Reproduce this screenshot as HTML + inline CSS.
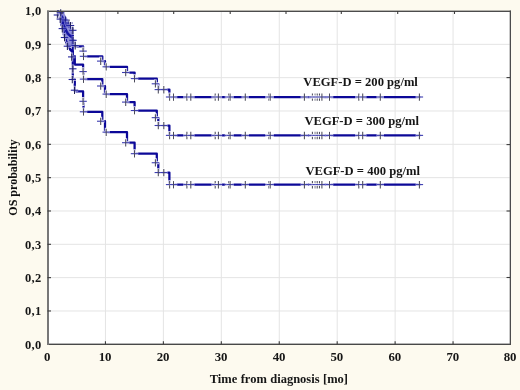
<!DOCTYPE html>
<html><head><meta charset="utf-8"><style>
html,body{margin:0;padding:0;background:#fdfaef;}
svg{display:block;filter:blur(0.3px);}
</style></head><body>
<svg width="520" height="390" viewBox="0 0 520 390">
<rect x="0" y="0" width="520" height="390" fill="#fdfaef"/>
<rect x="48" y="11" width="462" height="333" fill="#fff"/>
<path d="M105.44,12V343.6" stroke="#e4e4e4" stroke-width="1"/>
<path d="M163.38,12V343.6" stroke="#e4e4e4" stroke-width="1"/>
<path d="M221.31,12V343.6" stroke="#e4e4e4" stroke-width="1"/>
<path d="M279.25,12V343.6" stroke="#e4e4e4" stroke-width="1"/>
<path d="M337.19,12V343.6" stroke="#e4e4e4" stroke-width="1"/>
<path d="M395.12,12V343.6" stroke="#e4e4e4" stroke-width="1"/>
<path d="M453.06,12V343.6" stroke="#e4e4e4" stroke-width="1"/>
<path d="M49,310.97H509.7" stroke="#e4e4e4" stroke-width="1"/>
<path d="M49,277.64H509.7" stroke="#e4e4e4" stroke-width="1"/>
<path d="M49,244.31H509.7" stroke="#e4e4e4" stroke-width="1"/>
<path d="M49,210.98H509.7" stroke="#e4e4e4" stroke-width="1"/>
<path d="M49,177.65H509.7" stroke="#e4e4e4" stroke-width="1"/>
<path d="M49,144.32H509.7" stroke="#e4e4e4" stroke-width="1"/>
<path d="M49,110.99H509.7" stroke="#e4e4e4" stroke-width="1"/>
<path d="M49,77.66H509.7" stroke="#e4e4e4" stroke-width="1"/>
<path d="M49,44.33H509.7" stroke="#e4e4e4" stroke-width="1"/>
<path d="M57.00,11.00 L57.60,11.00 L57.60,11.40 L58.60,11.40 L58.60,12.17 L59.50,12.17 L59.50,13.70 L60.70,13.70 L60.70,15.73 L61.50,15.73 L61.50,16.99 L62.30,16.99 L62.30,18.25 L63.10,18.25 L63.10,19.64 L63.80,19.64 L63.80,20.84 L64.50,20.84 L64.50,22.05 L65.30,22.05 L65.30,23.06 L66.00,23.06 L66.00,23.94 L66.70,23.94 L66.70,24.82 L67.40,24.82 L67.40,25.70 L68.30,25.70 L68.30,26.24 L69.20,26.24 L69.20,26.78 L70.10,26.78 L70.10,27.30 L71.00,27.30 L71.00,27.73 L72.00,27.73 L72.00,28.20 L72.80,28.20 L72.80,40.57 L74.80,40.57 L74.80,46.32 L83.10,46.32 L83.10,51.10 L83.50,51.10 L83.50,56.30 L102.30,56.30 L102.30,61.10 L105.00,61.10 L105.00,66.80 L127.00,66.80 L127.00,72.50 L134.60,72.50 L134.60,78.60 L156.80,78.60 L156.80,84.00 L158.30,84.00 L158.30,89.60 L169.40,89.60 L169.40,97.00 L421.00,97.00" fill="none" stroke="#0c0898" stroke-width="2.25" stroke-linejoin="round"/>
<path d="M57.00,11.00 L57.60,11.00 L57.60,11.63 L58.60,11.63 L58.60,12.83 L59.50,12.83 L59.50,15.22 L60.70,15.22 L60.70,18.38 L61.50,18.38 L61.50,20.33 L62.30,20.33 L62.30,22.28 L63.10,22.28 L63.10,24.42 L63.80,24.42 L63.80,26.28 L64.50,26.28 L64.50,28.12 L65.30,28.12 L65.30,29.68 L66.00,29.68 L66.00,31.03 L66.70,31.03 L66.70,32.37 L67.40,32.37 L67.40,33.71 L68.30,33.71 L68.30,34.54 L69.20,34.54 L69.20,35.36 L70.10,35.36 L70.10,36.16 L71.00,36.16 L71.00,36.81 L72.00,36.81 L72.00,37.53 L72.80,37.53 L72.80,56.10 L74.80,56.10 L74.80,64.59 L83.10,64.59 L83.10,71.58 L83.50,71.58 L83.50,79.12 L102.30,79.12 L102.30,86.00 L105.00,86.00 L105.00,94.09 L127.00,94.09 L127.00,102.09 L134.60,102.09 L134.60,110.54 L156.80,110.54 L156.80,117.93 L158.30,117.93 L158.30,125.51 L169.40,125.51 L169.40,135.37 L421.00,135.37" fill="none" stroke="#0c0898" stroke-width="2.25" stroke-linejoin="round"/>
<path d="M57.00,11.00 L57.60,11.00 L57.60,11.98 L58.60,11.98 L58.60,13.87 L59.50,13.87 L59.50,17.62 L60.70,17.62 L60.70,22.54 L61.50,22.54 L61.50,25.58 L62.30,25.58 L62.30,28.59 L63.10,28.59 L63.10,31.89 L63.80,31.89 L63.80,34.74 L64.50,34.74 L64.50,37.57 L65.30,37.57 L65.30,39.94 L66.00,39.94 L66.00,41.99 L66.70,41.99 L66.70,44.04 L67.40,44.04 L67.40,46.07 L68.30,46.07 L68.30,47.31 L69.20,47.31 L69.20,48.55 L70.10,48.55 L70.10,49.76 L71.00,49.76 L71.00,50.74 L72.00,50.74 L72.00,51.82 L72.80,51.82 L72.80,79.22 L74.80,79.22 L74.80,91.41 L83.10,91.41 L83.10,101.30 L83.50,101.30 L83.50,111.79 L102.30,111.79 L102.30,121.22 L105.00,121.22 L105.00,132.13 L127.00,132.13 L127.00,142.71 L134.60,142.71 L134.60,153.68 L156.80,153.68 L156.80,163.09 L158.30,163.09 L158.30,172.55 L169.40,172.55 L169.40,184.59 L421.00,184.59" fill="none" stroke="#0c0898" stroke-width="2.25" stroke-linejoin="round"/>
<path d="M79.40,51.10H86.80M83.10,46.70V55.70" stroke="#fff" stroke-opacity="0.85" stroke-width="2.9"/><path d="M79.40,51.10H86.80" stroke="#3c3cb0" stroke-width="1.1"/><path d="M83.10,47.60V54.90" stroke="#4a4a5a" stroke-width="1.05"/>
<path d="M79.80,56.30H87.20M83.50,51.90V60.90" stroke="#fff" stroke-opacity="0.85" stroke-width="2.9"/><path d="M79.80,56.30H87.20" stroke="#3c3cb0" stroke-width="1.1"/><path d="M83.50,52.80V60.10" stroke="#4a4a5a" stroke-width="1.05"/>
<path d="M97.00,61.10H104.40M100.70,56.70V65.70" stroke="#fff" stroke-opacity="0.85" stroke-width="2.9"/><path d="M97.00,61.10H104.40" stroke="#3c3cb0" stroke-width="1.1"/><path d="M100.70,57.60V64.90" stroke="#4a4a5a" stroke-width="1.05"/>
<path d="M102.50,66.80H109.90M106.20,62.40V71.40" stroke="#fff" stroke-opacity="0.85" stroke-width="2.9"/><path d="M102.50,66.80H109.90" stroke="#3c3cb0" stroke-width="1.1"/><path d="M106.20,63.30V70.60" stroke="#4a4a5a" stroke-width="1.05"/>
<path d="M122.00,72.50H129.40M125.70,68.10V77.10" stroke="#fff" stroke-opacity="0.85" stroke-width="2.9"/><path d="M122.00,72.50H129.40" stroke="#3c3cb0" stroke-width="1.1"/><path d="M125.70,69.00V76.30" stroke="#4a4a5a" stroke-width="1.05"/>
<path d="M130.80,78.60H138.20M134.50,74.20V83.20" stroke="#fff" stroke-opacity="0.85" stroke-width="2.9"/><path d="M130.80,78.60H138.20" stroke="#3c3cb0" stroke-width="1.1"/><path d="M134.50,75.10V82.40" stroke="#4a4a5a" stroke-width="1.05"/>
<path d="M151.70,83.80H159.10M155.40,79.40V88.40" stroke="#fff" stroke-opacity="0.85" stroke-width="2.9"/><path d="M151.70,83.80H159.10" stroke="#3c3cb0" stroke-width="1.1"/><path d="M155.40,80.30V87.60" stroke="#4a4a5a" stroke-width="1.05"/>
<path d="M154.60,89.60H162.00M158.30,85.20V94.20" stroke="#fff" stroke-opacity="0.85" stroke-width="2.9"/><path d="M154.60,89.60H162.00" stroke="#3c3cb0" stroke-width="1.1"/><path d="M158.30,86.10V93.40" stroke="#4a4a5a" stroke-width="1.05"/>
<path d="M160.10,89.60H167.50M163.80,85.20V94.20" stroke="#fff" stroke-opacity="0.85" stroke-width="2.9"/><path d="M160.10,89.60H167.50" stroke="#3c3cb0" stroke-width="1.1"/><path d="M163.80,86.10V93.40" stroke="#4a4a5a" stroke-width="1.05"/>
<path d="M165.90,97.00H173.30M169.60,92.60V101.60" stroke="#fff" stroke-opacity="0.85" stroke-width="2.9"/><path d="M165.90,97.00H173.30" stroke="#3c3cb0" stroke-width="1.1"/><path d="M169.60,93.50V100.80" stroke="#4a4a5a" stroke-width="1.05"/>
<path d="M169.80,97.00H177.20M173.50,92.60V101.60" stroke="#fff" stroke-opacity="0.85" stroke-width="2.9"/><path d="M169.80,97.00H177.20" stroke="#3c3cb0" stroke-width="1.1"/><path d="M173.50,93.50V100.80" stroke="#4a4a5a" stroke-width="1.05"/>
<path d="M183.20,97.00H190.60M186.90,92.60V101.60" stroke="#fff" stroke-opacity="0.85" stroke-width="2.9"/><path d="M183.20,97.00H190.60" stroke="#3c3cb0" stroke-width="1.1"/><path d="M186.90,93.50V100.80" stroke="#4a4a5a" stroke-width="1.05"/>
<path d="M187.10,97.00H194.50M190.80,92.60V101.60" stroke="#fff" stroke-opacity="0.85" stroke-width="2.9"/><path d="M187.10,97.00H194.50" stroke="#3c3cb0" stroke-width="1.1"/><path d="M190.80,93.50V100.80" stroke="#4a4a5a" stroke-width="1.05"/>
<path d="M211.50,97.00H218.90M215.20,92.60V101.60" stroke="#fff" stroke-opacity="0.85" stroke-width="2.9"/><path d="M211.50,97.00H218.90" stroke="#3c3cb0" stroke-width="1.1"/><path d="M215.20,93.50V100.80" stroke="#4a4a5a" stroke-width="1.05"/>
<path d="M214.70,97.00H222.10M218.40,92.60V101.60" stroke="#fff" stroke-opacity="0.85" stroke-width="2.9"/><path d="M214.70,97.00H222.10" stroke="#3c3cb0" stroke-width="1.1"/><path d="M218.40,93.50V100.80" stroke="#4a4a5a" stroke-width="1.05"/>
<path d="M224.80,97.00H232.20M228.50,92.60V101.60" stroke="#fff" stroke-opacity="0.85" stroke-width="2.9"/><path d="M224.80,97.00H232.20" stroke="#3c3cb0" stroke-width="1.1"/><path d="M228.50,93.50V100.80" stroke="#4a4a5a" stroke-width="1.05"/>
<path d="M226.40,97.00H233.80M230.10,92.60V101.60" stroke="#fff" stroke-opacity="0.85" stroke-width="2.9"/><path d="M226.40,97.00H233.80" stroke="#3c3cb0" stroke-width="1.1"/><path d="M230.10,93.50V100.80" stroke="#4a4a5a" stroke-width="1.05"/>
<path d="M241.60,97.00H249.00M245.30,92.60V101.60" stroke="#fff" stroke-opacity="0.85" stroke-width="2.9"/><path d="M241.60,97.00H249.00" stroke="#3c3cb0" stroke-width="1.1"/><path d="M245.30,93.50V100.80" stroke="#4a4a5a" stroke-width="1.05"/>
<path d="M265.10,97.00H272.50M268.80,92.60V101.60" stroke="#fff" stroke-opacity="0.85" stroke-width="2.9"/><path d="M265.10,97.00H272.50" stroke="#3c3cb0" stroke-width="1.1"/><path d="M268.80,93.50V100.80" stroke="#4a4a5a" stroke-width="1.05"/>
<path d="M266.50,97.00H273.90M270.20,92.60V101.60" stroke="#fff" stroke-opacity="0.85" stroke-width="2.9"/><path d="M266.50,97.00H273.90" stroke="#3c3cb0" stroke-width="1.1"/><path d="M270.20,93.50V100.80" stroke="#4a4a5a" stroke-width="1.05"/>
<path d="M300.70,97.00H308.10M304.40,92.60V101.60" stroke="#fff" stroke-opacity="0.85" stroke-width="2.9"/><path d="M300.70,97.00H308.10" stroke="#3c3cb0" stroke-width="1.1"/><path d="M304.40,93.50V100.80" stroke="#4a4a5a" stroke-width="1.05"/>
<path d="M308.70,97.00H316.10M312.40,92.60V101.60" stroke="#fff" stroke-opacity="0.85" stroke-width="2.9"/><path d="M308.70,97.00H316.10" stroke="#3c3cb0" stroke-width="1.1"/><path d="M312.40,93.50V100.80" stroke="#4a4a5a" stroke-width="1.05"/>
<path d="M311.40,97.00H318.80M315.10,92.60V101.60" stroke="#fff" stroke-opacity="0.85" stroke-width="2.9"/><path d="M311.40,97.00H318.80" stroke="#3c3cb0" stroke-width="1.1"/><path d="M315.10,93.50V100.80" stroke="#4a4a5a" stroke-width="1.05"/>
<path d="M312.50,97.00H319.90M316.20,92.60V101.60" stroke="#fff" stroke-opacity="0.85" stroke-width="2.9"/><path d="M312.50,97.00H319.90" stroke="#3c3cb0" stroke-width="1.1"/><path d="M316.20,93.50V100.80" stroke="#4a4a5a" stroke-width="1.05"/>
<path d="M314.10,97.00H321.50M317.80,92.60V101.60" stroke="#fff" stroke-opacity="0.85" stroke-width="2.9"/><path d="M314.10,97.00H321.50" stroke="#3c3cb0" stroke-width="1.1"/><path d="M317.80,93.50V100.80" stroke="#4a4a5a" stroke-width="1.05"/>
<path d="M315.80,97.00H323.20M319.50,92.60V101.60" stroke="#fff" stroke-opacity="0.85" stroke-width="2.9"/><path d="M315.80,97.00H323.20" stroke="#3c3cb0" stroke-width="1.1"/><path d="M319.50,93.50V100.80" stroke="#4a4a5a" stroke-width="1.05"/>
<path d="M318.20,97.00H325.60M321.90,92.60V101.60" stroke="#fff" stroke-opacity="0.85" stroke-width="2.9"/><path d="M318.20,97.00H325.60" stroke="#3c3cb0" stroke-width="1.1"/><path d="M321.90,93.50V100.80" stroke="#4a4a5a" stroke-width="1.05"/>
<path d="M325.80,97.00H333.20M329.50,92.60V101.60" stroke="#fff" stroke-opacity="0.85" stroke-width="2.9"/><path d="M325.80,97.00H333.20" stroke="#3c3cb0" stroke-width="1.1"/><path d="M329.50,93.50V100.80" stroke="#4a4a5a" stroke-width="1.05"/>
<path d="M355.10,97.00H362.50M358.80,92.60V101.60" stroke="#fff" stroke-opacity="0.85" stroke-width="2.9"/><path d="M355.10,97.00H362.50" stroke="#3c3cb0" stroke-width="1.1"/><path d="M358.80,93.50V100.80" stroke="#4a4a5a" stroke-width="1.05"/>
<path d="M359.00,97.00H366.40M362.70,92.60V101.60" stroke="#fff" stroke-opacity="0.85" stroke-width="2.9"/><path d="M359.00,97.00H366.40" stroke="#3c3cb0" stroke-width="1.1"/><path d="M362.70,93.50V100.80" stroke="#4a4a5a" stroke-width="1.05"/>
<path d="M376.60,97.00H384.00M380.30,92.60V101.60" stroke="#fff" stroke-opacity="0.85" stroke-width="2.9"/><path d="M376.60,97.00H384.00" stroke="#3c3cb0" stroke-width="1.1"/><path d="M380.30,93.50V100.80" stroke="#4a4a5a" stroke-width="1.05"/>
<path d="M415.70,97.00H423.10M419.40,92.60V101.60" stroke="#fff" stroke-opacity="0.85" stroke-width="2.9"/><path d="M415.70,97.00H423.10" stroke="#3c3cb0" stroke-width="1.1"/><path d="M419.40,93.50V100.80" stroke="#4a4a5a" stroke-width="1.05"/>
<path d="M79.40,71.58H86.80M83.10,67.18V76.18" stroke="#fff" stroke-opacity="0.85" stroke-width="2.9"/><path d="M79.40,71.58H86.80" stroke="#3c3cb0" stroke-width="1.1"/><path d="M83.10,68.08V75.38" stroke="#4a4a5a" stroke-width="1.05"/>
<path d="M79.80,79.12H87.20M83.50,74.72V83.72" stroke="#fff" stroke-opacity="0.85" stroke-width="2.9"/><path d="M79.80,79.12H87.20" stroke="#3c3cb0" stroke-width="1.1"/><path d="M83.50,75.62V82.92" stroke="#4a4a5a" stroke-width="1.05"/>
<path d="M97.00,86.00H104.40M100.70,81.60V90.60" stroke="#fff" stroke-opacity="0.85" stroke-width="2.9"/><path d="M97.00,86.00H104.40" stroke="#3c3cb0" stroke-width="1.1"/><path d="M100.70,82.50V89.80" stroke="#4a4a5a" stroke-width="1.05"/>
<path d="M102.50,94.09H109.90M106.20,89.69V98.69" stroke="#fff" stroke-opacity="0.85" stroke-width="2.9"/><path d="M102.50,94.09H109.90" stroke="#3c3cb0" stroke-width="1.1"/><path d="M106.20,90.59V97.89" stroke="#4a4a5a" stroke-width="1.05"/>
<path d="M122.00,102.09H129.40M125.70,97.69V106.69" stroke="#fff" stroke-opacity="0.85" stroke-width="2.9"/><path d="M122.00,102.09H129.40" stroke="#3c3cb0" stroke-width="1.1"/><path d="M125.70,98.59V105.89" stroke="#4a4a5a" stroke-width="1.05"/>
<path d="M130.80,110.54H138.20M134.50,106.14V115.14" stroke="#fff" stroke-opacity="0.85" stroke-width="2.9"/><path d="M130.80,110.54H138.20" stroke="#3c3cb0" stroke-width="1.1"/><path d="M134.50,107.04V114.34" stroke="#4a4a5a" stroke-width="1.05"/>
<path d="M151.70,117.66H159.10M155.40,113.26V122.26" stroke="#fff" stroke-opacity="0.85" stroke-width="2.9"/><path d="M151.70,117.66H159.10" stroke="#3c3cb0" stroke-width="1.1"/><path d="M155.40,114.16V121.46" stroke="#4a4a5a" stroke-width="1.05"/>
<path d="M154.60,125.51H162.00M158.30,121.11V130.11" stroke="#fff" stroke-opacity="0.85" stroke-width="2.9"/><path d="M154.60,125.51H162.00" stroke="#3c3cb0" stroke-width="1.1"/><path d="M158.30,122.01V129.31" stroke="#4a4a5a" stroke-width="1.05"/>
<path d="M160.10,125.51H167.50M163.80,121.11V130.11" stroke="#fff" stroke-opacity="0.85" stroke-width="2.9"/><path d="M160.10,125.51H167.50" stroke="#3c3cb0" stroke-width="1.1"/><path d="M163.80,122.01V129.31" stroke="#4a4a5a" stroke-width="1.05"/>
<path d="M165.90,135.37H173.30M169.60,130.97V139.97" stroke="#fff" stroke-opacity="0.85" stroke-width="2.9"/><path d="M165.90,135.37H173.30" stroke="#3c3cb0" stroke-width="1.1"/><path d="M169.60,131.87V139.17" stroke="#4a4a5a" stroke-width="1.05"/>
<path d="M169.80,135.37H177.20M173.50,130.97V139.97" stroke="#fff" stroke-opacity="0.85" stroke-width="2.9"/><path d="M169.80,135.37H177.20" stroke="#3c3cb0" stroke-width="1.1"/><path d="M173.50,131.87V139.17" stroke="#4a4a5a" stroke-width="1.05"/>
<path d="M183.20,135.37H190.60M186.90,130.97V139.97" stroke="#fff" stroke-opacity="0.85" stroke-width="2.9"/><path d="M183.20,135.37H190.60" stroke="#3c3cb0" stroke-width="1.1"/><path d="M186.90,131.87V139.17" stroke="#4a4a5a" stroke-width="1.05"/>
<path d="M187.10,135.37H194.50M190.80,130.97V139.97" stroke="#fff" stroke-opacity="0.85" stroke-width="2.9"/><path d="M187.10,135.37H194.50" stroke="#3c3cb0" stroke-width="1.1"/><path d="M190.80,131.87V139.17" stroke="#4a4a5a" stroke-width="1.05"/>
<path d="M211.50,135.37H218.90M215.20,130.97V139.97" stroke="#fff" stroke-opacity="0.85" stroke-width="2.9"/><path d="M211.50,135.37H218.90" stroke="#3c3cb0" stroke-width="1.1"/><path d="M215.20,131.87V139.17" stroke="#4a4a5a" stroke-width="1.05"/>
<path d="M214.70,135.37H222.10M218.40,130.97V139.97" stroke="#fff" stroke-opacity="0.85" stroke-width="2.9"/><path d="M214.70,135.37H222.10" stroke="#3c3cb0" stroke-width="1.1"/><path d="M218.40,131.87V139.17" stroke="#4a4a5a" stroke-width="1.05"/>
<path d="M224.80,135.37H232.20M228.50,130.97V139.97" stroke="#fff" stroke-opacity="0.85" stroke-width="2.9"/><path d="M224.80,135.37H232.20" stroke="#3c3cb0" stroke-width="1.1"/><path d="M228.50,131.87V139.17" stroke="#4a4a5a" stroke-width="1.05"/>
<path d="M226.40,135.37H233.80M230.10,130.97V139.97" stroke="#fff" stroke-opacity="0.85" stroke-width="2.9"/><path d="M226.40,135.37H233.80" stroke="#3c3cb0" stroke-width="1.1"/><path d="M230.10,131.87V139.17" stroke="#4a4a5a" stroke-width="1.05"/>
<path d="M241.60,135.37H249.00M245.30,130.97V139.97" stroke="#fff" stroke-opacity="0.85" stroke-width="2.9"/><path d="M241.60,135.37H249.00" stroke="#3c3cb0" stroke-width="1.1"/><path d="M245.30,131.87V139.17" stroke="#4a4a5a" stroke-width="1.05"/>
<path d="M265.10,135.37H272.50M268.80,130.97V139.97" stroke="#fff" stroke-opacity="0.85" stroke-width="2.9"/><path d="M265.10,135.37H272.50" stroke="#3c3cb0" stroke-width="1.1"/><path d="M268.80,131.87V139.17" stroke="#4a4a5a" stroke-width="1.05"/>
<path d="M266.50,135.37H273.90M270.20,130.97V139.97" stroke="#fff" stroke-opacity="0.85" stroke-width="2.9"/><path d="M266.50,135.37H273.90" stroke="#3c3cb0" stroke-width="1.1"/><path d="M270.20,131.87V139.17" stroke="#4a4a5a" stroke-width="1.05"/>
<path d="M300.70,135.37H308.10M304.40,130.97V139.97" stroke="#fff" stroke-opacity="0.85" stroke-width="2.9"/><path d="M300.70,135.37H308.10" stroke="#3c3cb0" stroke-width="1.1"/><path d="M304.40,131.87V139.17" stroke="#4a4a5a" stroke-width="1.05"/>
<path d="M308.70,135.37H316.10M312.40,130.97V139.97" stroke="#fff" stroke-opacity="0.85" stroke-width="2.9"/><path d="M308.70,135.37H316.10" stroke="#3c3cb0" stroke-width="1.1"/><path d="M312.40,131.87V139.17" stroke="#4a4a5a" stroke-width="1.05"/>
<path d="M311.40,135.37H318.80M315.10,130.97V139.97" stroke="#fff" stroke-opacity="0.85" stroke-width="2.9"/><path d="M311.40,135.37H318.80" stroke="#3c3cb0" stroke-width="1.1"/><path d="M315.10,131.87V139.17" stroke="#4a4a5a" stroke-width="1.05"/>
<path d="M312.50,135.37H319.90M316.20,130.97V139.97" stroke="#fff" stroke-opacity="0.85" stroke-width="2.9"/><path d="M312.50,135.37H319.90" stroke="#3c3cb0" stroke-width="1.1"/><path d="M316.20,131.87V139.17" stroke="#4a4a5a" stroke-width="1.05"/>
<path d="M314.10,135.37H321.50M317.80,130.97V139.97" stroke="#fff" stroke-opacity="0.85" stroke-width="2.9"/><path d="M314.10,135.37H321.50" stroke="#3c3cb0" stroke-width="1.1"/><path d="M317.80,131.87V139.17" stroke="#4a4a5a" stroke-width="1.05"/>
<path d="M315.80,135.37H323.20M319.50,130.97V139.97" stroke="#fff" stroke-opacity="0.85" stroke-width="2.9"/><path d="M315.80,135.37H323.20" stroke="#3c3cb0" stroke-width="1.1"/><path d="M319.50,131.87V139.17" stroke="#4a4a5a" stroke-width="1.05"/>
<path d="M318.20,135.37H325.60M321.90,130.97V139.97" stroke="#fff" stroke-opacity="0.85" stroke-width="2.9"/><path d="M318.20,135.37H325.60" stroke="#3c3cb0" stroke-width="1.1"/><path d="M321.90,131.87V139.17" stroke="#4a4a5a" stroke-width="1.05"/>
<path d="M325.80,135.37H333.20M329.50,130.97V139.97" stroke="#fff" stroke-opacity="0.85" stroke-width="2.9"/><path d="M325.80,135.37H333.20" stroke="#3c3cb0" stroke-width="1.1"/><path d="M329.50,131.87V139.17" stroke="#4a4a5a" stroke-width="1.05"/>
<path d="M355.10,135.37H362.50M358.80,130.97V139.97" stroke="#fff" stroke-opacity="0.85" stroke-width="2.9"/><path d="M355.10,135.37H362.50" stroke="#3c3cb0" stroke-width="1.1"/><path d="M358.80,131.87V139.17" stroke="#4a4a5a" stroke-width="1.05"/>
<path d="M359.00,135.37H366.40M362.70,130.97V139.97" stroke="#fff" stroke-opacity="0.85" stroke-width="2.9"/><path d="M359.00,135.37H366.40" stroke="#3c3cb0" stroke-width="1.1"/><path d="M362.70,131.87V139.17" stroke="#4a4a5a" stroke-width="1.05"/>
<path d="M376.60,135.37H384.00M380.30,130.97V139.97" stroke="#fff" stroke-opacity="0.85" stroke-width="2.9"/><path d="M376.60,135.37H384.00" stroke="#3c3cb0" stroke-width="1.1"/><path d="M380.30,131.87V139.17" stroke="#4a4a5a" stroke-width="1.05"/>
<path d="M415.70,135.37H423.10M419.40,130.97V139.97" stroke="#fff" stroke-opacity="0.85" stroke-width="2.9"/><path d="M415.70,135.37H423.10" stroke="#3c3cb0" stroke-width="1.1"/><path d="M419.40,131.87V139.17" stroke="#4a4a5a" stroke-width="1.05"/>
<path d="M79.40,101.30H86.80M83.10,96.90V105.90" stroke="#fff" stroke-opacity="0.85" stroke-width="2.9"/><path d="M79.40,101.30H86.80" stroke="#3c3cb0" stroke-width="1.1"/><path d="M83.10,97.80V105.10" stroke="#4a4a5a" stroke-width="1.05"/>
<path d="M79.80,111.79H87.20M83.50,107.39V116.39" stroke="#fff" stroke-opacity="0.85" stroke-width="2.9"/><path d="M79.80,111.79H87.20" stroke="#3c3cb0" stroke-width="1.1"/><path d="M83.50,108.29V115.59" stroke="#4a4a5a" stroke-width="1.05"/>
<path d="M97.00,121.22H104.40M100.70,116.82V125.82" stroke="#fff" stroke-opacity="0.85" stroke-width="2.9"/><path d="M97.00,121.22H104.40" stroke="#3c3cb0" stroke-width="1.1"/><path d="M100.70,117.72V125.02" stroke="#4a4a5a" stroke-width="1.05"/>
<path d="M102.50,132.13H109.90M106.20,127.73V136.73" stroke="#fff" stroke-opacity="0.85" stroke-width="2.9"/><path d="M102.50,132.13H109.90" stroke="#3c3cb0" stroke-width="1.1"/><path d="M106.20,128.63V135.93" stroke="#4a4a5a" stroke-width="1.05"/>
<path d="M122.00,142.71H129.40M125.70,138.31V147.31" stroke="#fff" stroke-opacity="0.85" stroke-width="2.9"/><path d="M122.00,142.71H129.40" stroke="#3c3cb0" stroke-width="1.1"/><path d="M125.70,139.21V146.51" stroke="#4a4a5a" stroke-width="1.05"/>
<path d="M130.80,153.68H138.20M134.50,149.28V158.28" stroke="#fff" stroke-opacity="0.85" stroke-width="2.9"/><path d="M130.80,153.68H138.20" stroke="#3c3cb0" stroke-width="1.1"/><path d="M134.50,150.18V157.48" stroke="#4a4a5a" stroke-width="1.05"/>
<path d="M151.70,162.74H159.10M155.40,158.34V167.34" stroke="#fff" stroke-opacity="0.85" stroke-width="2.9"/><path d="M151.70,162.74H159.10" stroke="#3c3cb0" stroke-width="1.1"/><path d="M155.40,159.24V166.54" stroke="#4a4a5a" stroke-width="1.05"/>
<path d="M154.60,172.55H162.00M158.30,168.15V177.15" stroke="#fff" stroke-opacity="0.85" stroke-width="2.9"/><path d="M154.60,172.55H162.00" stroke="#3c3cb0" stroke-width="1.1"/><path d="M158.30,169.05V176.35" stroke="#4a4a5a" stroke-width="1.05"/>
<path d="M160.10,172.55H167.50M163.80,168.15V177.15" stroke="#fff" stroke-opacity="0.85" stroke-width="2.9"/><path d="M160.10,172.55H167.50" stroke="#3c3cb0" stroke-width="1.1"/><path d="M163.80,169.05V176.35" stroke="#4a4a5a" stroke-width="1.05"/>
<path d="M165.90,184.59H173.30M169.60,180.19V189.19" stroke="#fff" stroke-opacity="0.85" stroke-width="2.9"/><path d="M165.90,184.59H173.30" stroke="#3c3cb0" stroke-width="1.1"/><path d="M169.60,181.09V188.39" stroke="#4a4a5a" stroke-width="1.05"/>
<path d="M169.80,184.59H177.20M173.50,180.19V189.19" stroke="#fff" stroke-opacity="0.85" stroke-width="2.9"/><path d="M169.80,184.59H177.20" stroke="#3c3cb0" stroke-width="1.1"/><path d="M173.50,181.09V188.39" stroke="#4a4a5a" stroke-width="1.05"/>
<path d="M183.20,184.59H190.60M186.90,180.19V189.19" stroke="#fff" stroke-opacity="0.85" stroke-width="2.9"/><path d="M183.20,184.59H190.60" stroke="#3c3cb0" stroke-width="1.1"/><path d="M186.90,181.09V188.39" stroke="#4a4a5a" stroke-width="1.05"/>
<path d="M187.10,184.59H194.50M190.80,180.19V189.19" stroke="#fff" stroke-opacity="0.85" stroke-width="2.9"/><path d="M187.10,184.59H194.50" stroke="#3c3cb0" stroke-width="1.1"/><path d="M190.80,181.09V188.39" stroke="#4a4a5a" stroke-width="1.05"/>
<path d="M211.50,184.59H218.90M215.20,180.19V189.19" stroke="#fff" stroke-opacity="0.85" stroke-width="2.9"/><path d="M211.50,184.59H218.90" stroke="#3c3cb0" stroke-width="1.1"/><path d="M215.20,181.09V188.39" stroke="#4a4a5a" stroke-width="1.05"/>
<path d="M214.70,184.59H222.10M218.40,180.19V189.19" stroke="#fff" stroke-opacity="0.85" stroke-width="2.9"/><path d="M214.70,184.59H222.10" stroke="#3c3cb0" stroke-width="1.1"/><path d="M218.40,181.09V188.39" stroke="#4a4a5a" stroke-width="1.05"/>
<path d="M224.80,184.59H232.20M228.50,180.19V189.19" stroke="#fff" stroke-opacity="0.85" stroke-width="2.9"/><path d="M224.80,184.59H232.20" stroke="#3c3cb0" stroke-width="1.1"/><path d="M228.50,181.09V188.39" stroke="#4a4a5a" stroke-width="1.05"/>
<path d="M226.40,184.59H233.80M230.10,180.19V189.19" stroke="#fff" stroke-opacity="0.85" stroke-width="2.9"/><path d="M226.40,184.59H233.80" stroke="#3c3cb0" stroke-width="1.1"/><path d="M230.10,181.09V188.39" stroke="#4a4a5a" stroke-width="1.05"/>
<path d="M241.60,184.59H249.00M245.30,180.19V189.19" stroke="#fff" stroke-opacity="0.85" stroke-width="2.9"/><path d="M241.60,184.59H249.00" stroke="#3c3cb0" stroke-width="1.1"/><path d="M245.30,181.09V188.39" stroke="#4a4a5a" stroke-width="1.05"/>
<path d="M265.10,184.59H272.50M268.80,180.19V189.19" stroke="#fff" stroke-opacity="0.85" stroke-width="2.9"/><path d="M265.10,184.59H272.50" stroke="#3c3cb0" stroke-width="1.1"/><path d="M268.80,181.09V188.39" stroke="#4a4a5a" stroke-width="1.05"/>
<path d="M266.50,184.59H273.90M270.20,180.19V189.19" stroke="#fff" stroke-opacity="0.85" stroke-width="2.9"/><path d="M266.50,184.59H273.90" stroke="#3c3cb0" stroke-width="1.1"/><path d="M270.20,181.09V188.39" stroke="#4a4a5a" stroke-width="1.05"/>
<path d="M300.70,184.59H308.10M304.40,180.19V189.19" stroke="#fff" stroke-opacity="0.85" stroke-width="2.9"/><path d="M300.70,184.59H308.10" stroke="#3c3cb0" stroke-width="1.1"/><path d="M304.40,181.09V188.39" stroke="#4a4a5a" stroke-width="1.05"/>
<path d="M308.70,184.59H316.10M312.40,180.19V189.19" stroke="#fff" stroke-opacity="0.85" stroke-width="2.9"/><path d="M308.70,184.59H316.10" stroke="#3c3cb0" stroke-width="1.1"/><path d="M312.40,181.09V188.39" stroke="#4a4a5a" stroke-width="1.05"/>
<path d="M311.40,184.59H318.80M315.10,180.19V189.19" stroke="#fff" stroke-opacity="0.85" stroke-width="2.9"/><path d="M311.40,184.59H318.80" stroke="#3c3cb0" stroke-width="1.1"/><path d="M315.10,181.09V188.39" stroke="#4a4a5a" stroke-width="1.05"/>
<path d="M312.50,184.59H319.90M316.20,180.19V189.19" stroke="#fff" stroke-opacity="0.85" stroke-width="2.9"/><path d="M312.50,184.59H319.90" stroke="#3c3cb0" stroke-width="1.1"/><path d="M316.20,181.09V188.39" stroke="#4a4a5a" stroke-width="1.05"/>
<path d="M314.10,184.59H321.50M317.80,180.19V189.19" stroke="#fff" stroke-opacity="0.85" stroke-width="2.9"/><path d="M314.10,184.59H321.50" stroke="#3c3cb0" stroke-width="1.1"/><path d="M317.80,181.09V188.39" stroke="#4a4a5a" stroke-width="1.05"/>
<path d="M315.80,184.59H323.20M319.50,180.19V189.19" stroke="#fff" stroke-opacity="0.85" stroke-width="2.9"/><path d="M315.80,184.59H323.20" stroke="#3c3cb0" stroke-width="1.1"/><path d="M319.50,181.09V188.39" stroke="#4a4a5a" stroke-width="1.05"/>
<path d="M318.20,184.59H325.60M321.90,180.19V189.19" stroke="#fff" stroke-opacity="0.85" stroke-width="2.9"/><path d="M318.20,184.59H325.60" stroke="#3c3cb0" stroke-width="1.1"/><path d="M321.90,181.09V188.39" stroke="#4a4a5a" stroke-width="1.05"/>
<path d="M325.80,184.59H333.20M329.50,180.19V189.19" stroke="#fff" stroke-opacity="0.85" stroke-width="2.9"/><path d="M325.80,184.59H333.20" stroke="#3c3cb0" stroke-width="1.1"/><path d="M329.50,181.09V188.39" stroke="#4a4a5a" stroke-width="1.05"/>
<path d="M355.10,184.59H362.50M358.80,180.19V189.19" stroke="#fff" stroke-opacity="0.85" stroke-width="2.9"/><path d="M355.10,184.59H362.50" stroke="#3c3cb0" stroke-width="1.1"/><path d="M358.80,181.09V188.39" stroke="#4a4a5a" stroke-width="1.05"/>
<path d="M359.00,184.59H366.40M362.70,180.19V189.19" stroke="#fff" stroke-opacity="0.85" stroke-width="2.9"/><path d="M359.00,184.59H366.40" stroke="#3c3cb0" stroke-width="1.1"/><path d="M362.70,181.09V188.39" stroke="#4a4a5a" stroke-width="1.05"/>
<path d="M376.60,184.59H384.00M380.30,180.19V189.19" stroke="#fff" stroke-opacity="0.85" stroke-width="2.9"/><path d="M376.60,184.59H384.00" stroke="#3c3cb0" stroke-width="1.1"/><path d="M380.30,181.09V188.39" stroke="#4a4a5a" stroke-width="1.05"/>
<path d="M415.70,184.59H423.10M419.40,180.19V189.19" stroke="#fff" stroke-opacity="0.85" stroke-width="2.9"/><path d="M415.70,184.59H423.10" stroke="#3c3cb0" stroke-width="1.1"/><path d="M419.40,181.09V188.39" stroke="#4a4a5a" stroke-width="1.05"/>
<path d="M53.70,15.00H61.10M57.40,10.60V19.60" stroke="#fff" stroke-opacity="0.6" stroke-width="2.9"/><path d="M53.70,15.00H61.10" stroke="#24249c" stroke-width="1.1"/><path d="M57.40,11.50V18.80" stroke="#222258" stroke-width="1.05"/>
<path d="M56.60,19.10H64.00M60.30,14.70V23.70" stroke="#fff" stroke-opacity="0.6" stroke-width="2.9"/><path d="M56.60,19.10H64.00" stroke="#24249c" stroke-width="1.1"/><path d="M60.30,15.60V22.90" stroke="#222258" stroke-width="1.05"/>
<path d="M57.00,12.80H64.40M60.70,8.40V17.40" stroke="#fff" stroke-opacity="0.6" stroke-width="2.9"/><path d="M57.00,12.80H64.40" stroke="#24249c" stroke-width="1.1"/><path d="M60.70,9.30V16.60" stroke="#222258" stroke-width="1.05"/>
<path d="M58.60,28.60H66.00M62.30,24.20V33.20" stroke="#fff" stroke-opacity="0.6" stroke-width="2.9"/><path d="M58.60,28.60H66.00" stroke="#24249c" stroke-width="1.1"/><path d="M62.30,25.10V32.40" stroke="#222258" stroke-width="1.05"/>
<path d="M60.80,37.50H68.20M64.50,33.10V42.10" stroke="#fff" stroke-opacity="0.6" stroke-width="2.9"/><path d="M60.80,37.50H68.20" stroke="#24249c" stroke-width="1.1"/><path d="M64.50,34.00V41.30" stroke="#222258" stroke-width="1.05"/>
<path d="M63.70,46.20H71.10M67.40,41.80V50.80" stroke="#fff" stroke-opacity="0.6" stroke-width="2.9"/><path d="M63.70,46.20H71.10" stroke="#24249c" stroke-width="1.1"/><path d="M67.40,42.70V50.00" stroke="#222258" stroke-width="1.05"/>
<path d="M61.80,20.00H69.20M65.50,15.60V24.60" stroke="#fff" stroke-opacity="0.6" stroke-width="2.9"/><path d="M61.80,20.00H69.20" stroke="#24249c" stroke-width="1.1"/><path d="M65.50,16.50V23.80" stroke="#222258" stroke-width="1.05"/>
<path d="M65.30,23.00H72.70M69.00,18.60V27.60" stroke="#fff" stroke-opacity="0.6" stroke-width="2.9"/><path d="M65.30,23.00H72.70" stroke="#24249c" stroke-width="1.1"/><path d="M69.00,19.50V26.80" stroke="#222258" stroke-width="1.05"/>
<path d="M66.80,25.50H74.20M70.50,21.10V30.10" stroke="#fff" stroke-opacity="0.6" stroke-width="2.9"/><path d="M66.80,25.50H74.20" stroke="#24249c" stroke-width="1.1"/><path d="M70.50,22.00V29.30" stroke="#222258" stroke-width="1.05"/>
<path d="M69.10,30.30H76.50M72.80,25.90V34.90" stroke="#fff" stroke-opacity="0.6" stroke-width="2.9"/><path d="M69.10,30.30H76.50" stroke="#24249c" stroke-width="1.1"/><path d="M72.80,26.80V34.10" stroke="#222258" stroke-width="1.05"/>
<path d="M69.30,40.30H76.70M73.00,35.90V44.90" stroke="#fff" stroke-opacity="0.6" stroke-width="2.9"/><path d="M69.30,40.30H76.70" stroke="#24249c" stroke-width="1.1"/><path d="M73.00,36.80V44.10" stroke="#222258" stroke-width="1.05"/>
<path d="M71.50,45.60H78.90M75.20,41.20V50.20" stroke="#fff" stroke-opacity="0.6" stroke-width="2.9"/><path d="M71.50,45.60H78.90" stroke="#24249c" stroke-width="1.1"/><path d="M75.20,42.10V49.40" stroke="#222258" stroke-width="1.05"/>
<path d="M68.00,56.90H75.40M71.70,52.50V61.50" stroke="#fff" stroke-opacity="0.6" stroke-width="2.9"/><path d="M68.00,56.90H75.40" stroke="#24249c" stroke-width="1.1"/><path d="M71.70,53.40V60.70" stroke="#222258" stroke-width="1.05"/>
<path d="M69.10,68.80H76.50M72.80,64.40V73.40" stroke="#fff" stroke-opacity="0.6" stroke-width="2.9"/><path d="M69.10,68.80H76.50" stroke="#24249c" stroke-width="1.1"/><path d="M72.80,65.30V72.60" stroke="#222258" stroke-width="1.05"/>
<path d="M68.60,79.50H76.00M72.30,75.10V84.10" stroke="#fff" stroke-opacity="0.6" stroke-width="2.9"/><path d="M68.60,79.50H76.00" stroke="#24249c" stroke-width="1.1"/><path d="M72.30,76.00V83.30" stroke="#222258" stroke-width="1.05"/>
<path d="M70.80,90.20H78.20M74.50,85.80V94.80" stroke="#fff" stroke-opacity="0.6" stroke-width="2.9"/><path d="M70.80,90.20H78.20" stroke="#24249c" stroke-width="1.1"/><path d="M74.50,86.70V94.00" stroke="#222258" stroke-width="1.05"/>
<path d="M60,11.6 L61.5,22 L63.5,30 L66,38 L68.5,46 L74,46.5 L73,36 L70.5,26 L67,18 L63,11.6 Z" fill="#2020b0" fill-opacity="0.5"/>
<rect x="47" y="10.6" width="464" height="1.4" fill="#4c4c4c"/>
<rect x="47" y="343.6" width="464" height="1.4" fill="#484848"/>
<rect x="509.7" y="10.6" width="1.3" height="334.4" fill="#4c4c4c"/>
<rect x="47" y="10.6" width="2" height="334.4" fill="#777777"/>
<path d="M47.5,310.97H51.0" stroke="#3c3c3c" stroke-width="1.1"/>
<path d="M47.5,277.64H51.0" stroke="#3c3c3c" stroke-width="1.1"/>
<path d="M47.5,244.31H51.0" stroke="#3c3c3c" stroke-width="1.1"/>
<path d="M47.5,210.98H51.0" stroke="#3c3c3c" stroke-width="1.1"/>
<path d="M47.5,177.65H51.0" stroke="#3c3c3c" stroke-width="1.1"/>
<path d="M47.5,144.32H51.0" stroke="#3c3c3c" stroke-width="1.1"/>
<path d="M47.5,110.99H51.0" stroke="#3c3c3c" stroke-width="1.1"/>
<path d="M47.5,77.66H51.0" stroke="#3c3c3c" stroke-width="1.1"/>
<path d="M47.5,44.33H51.0" stroke="#3c3c3c" stroke-width="1.1"/>
<path d="M105.44,344.3V341.3" stroke="#3c3c3c" stroke-width="1.1"/>
<path d="M163.38,344.3V341.3" stroke="#3c3c3c" stroke-width="1.1"/>
<path d="M221.31,344.3V341.3" stroke="#3c3c3c" stroke-width="1.1"/>
<path d="M279.25,344.3V341.3" stroke="#3c3c3c" stroke-width="1.1"/>
<path d="M337.19,344.3V341.3" stroke="#3c3c3c" stroke-width="1.1"/>
<path d="M395.12,344.3V341.3" stroke="#3c3c3c" stroke-width="1.1"/>
<path d="M453.06,344.3V341.3" stroke="#3c3c3c" stroke-width="1.1"/>
<path d="M62.00,11.0V14.0" stroke="#3c3c3c" stroke-width="1.1"/>
<path d="M117.90,11.0V14.0" stroke="#3c3c3c" stroke-width="1.1"/>
<path d="M173.70,11.0V14.0" stroke="#3c3c3c" stroke-width="1.1"/>
<path d="M230.20,11.0V14.0" stroke="#3c3c3c" stroke-width="1.1"/>
<path d="M286.00,11.0V14.0" stroke="#3c3c3c" stroke-width="1.1"/>
<path d="M341.30,11.0V14.0" stroke="#3c3c3c" stroke-width="1.1"/>
<path d="M397.70,11.0V14.0" stroke="#3c3c3c" stroke-width="1.1"/>
<path d="M454.50,11.0V14.0" stroke="#3c3c3c" stroke-width="1.1"/>
<path d="M510,77.60H506.5" stroke="#3c3c3c" stroke-width="1.1"/>
<path d="M510,144.60H506.5" stroke="#3c3c3c" stroke-width="1.1"/>
<path d="M510,211.00H506.5" stroke="#3c3c3c" stroke-width="1.1"/>
<path d="M510,277.50H506.5" stroke="#3c3c3c" stroke-width="1.1"/>
<text x="41.6" y="348.65" text-anchor="end" letter-spacing="0.35" font-family="Liberation Serif" font-weight="bold" font-size="12.5" fill="#161616">0,0</text>
<text x="41.6" y="315.32" text-anchor="end" letter-spacing="0.35" font-family="Liberation Serif" font-weight="bold" font-size="12.5" fill="#161616">0,1</text>
<text x="41.6" y="281.99" text-anchor="end" letter-spacing="0.35" font-family="Liberation Serif" font-weight="bold" font-size="12.5" fill="#161616">0,2</text>
<text x="41.6" y="248.66" text-anchor="end" letter-spacing="0.35" font-family="Liberation Serif" font-weight="bold" font-size="12.5" fill="#161616">0,3</text>
<text x="41.6" y="215.33" text-anchor="end" letter-spacing="0.35" font-family="Liberation Serif" font-weight="bold" font-size="12.5" fill="#161616">0,4</text>
<text x="41.6" y="182.00" text-anchor="end" letter-spacing="0.35" font-family="Liberation Serif" font-weight="bold" font-size="12.5" fill="#161616">0,5</text>
<text x="41.6" y="148.67" text-anchor="end" letter-spacing="0.35" font-family="Liberation Serif" font-weight="bold" font-size="12.5" fill="#161616">0,6</text>
<text x="41.6" y="115.34" text-anchor="end" letter-spacing="0.35" font-family="Liberation Serif" font-weight="bold" font-size="12.5" fill="#161616">0,7</text>
<text x="41.6" y="82.01" text-anchor="end" letter-spacing="0.35" font-family="Liberation Serif" font-weight="bold" font-size="12.5" fill="#161616">0,8</text>
<text x="41.6" y="48.68" text-anchor="end" letter-spacing="0.35" font-family="Liberation Serif" font-weight="bold" font-size="12.5" fill="#161616">0,9</text>
<text x="41.6" y="15.35" text-anchor="end" letter-spacing="0.35" font-family="Liberation Serif" font-weight="bold" font-size="12.5" fill="#161616">1,0</text>
<text x="47.15" y="361.3" text-anchor="middle" font-family="Liberation Serif" font-weight="bold" font-size="12.85" letter-spacing="-0.2" fill="#161616">0</text>
<text x="105.09" y="361.3" text-anchor="middle" font-family="Liberation Serif" font-weight="bold" font-size="12.85" letter-spacing="-0.2" fill="#161616">10</text>
<text x="163.03" y="361.3" text-anchor="middle" font-family="Liberation Serif" font-weight="bold" font-size="12.85" letter-spacing="-0.2" fill="#161616">20</text>
<text x="220.96" y="361.3" text-anchor="middle" font-family="Liberation Serif" font-weight="bold" font-size="12.85" letter-spacing="-0.2" fill="#161616">30</text>
<text x="278.90" y="361.3" text-anchor="middle" font-family="Liberation Serif" font-weight="bold" font-size="12.85" letter-spacing="-0.2" fill="#161616">40</text>
<text x="336.84" y="361.3" text-anchor="middle" font-family="Liberation Serif" font-weight="bold" font-size="12.85" letter-spacing="-0.2" fill="#161616">50</text>
<text x="394.77" y="361.3" text-anchor="middle" font-family="Liberation Serif" font-weight="bold" font-size="12.85" letter-spacing="-0.2" fill="#161616">60</text>
<text x="452.71" y="361.3" text-anchor="middle" font-family="Liberation Serif" font-weight="bold" font-size="12.85" letter-spacing="-0.2" fill="#161616">70</text>
<text x="509.95" y="361.3" text-anchor="middle" font-family="Liberation Serif" font-weight="bold" font-size="12.85" letter-spacing="-0.2" fill="#161616">80</text>
<text x="209.7" y="382.9" word-spacing="0.3" font-family="Liberation Serif" font-weight="bold" font-size="12.5" fill="#161616">Time from diagnosis [mo]</text>
<text transform="translate(17.1,177.6) rotate(-90)" text-anchor="middle" font-family="Liberation Serif" font-weight="bold" font-size="12" fill="#111">OS probability</text>
<text x="303.3" y="85.6" font-family="Liberation Serif" font-weight="bold" font-size="12.6" fill="#161616">VEGF-D = 200 pg/ml</text>
<text x="304.4" y="124.6" font-family="Liberation Serif" font-weight="bold" font-size="12.6" fill="#161616">VEGF-D = 300 pg/ml</text>
<text x="305.4" y="174.6" font-family="Liberation Serif" font-weight="bold" font-size="12.6" fill="#161616">VEGF-D = 400 pg/ml</text>
</svg>
</body></html>
